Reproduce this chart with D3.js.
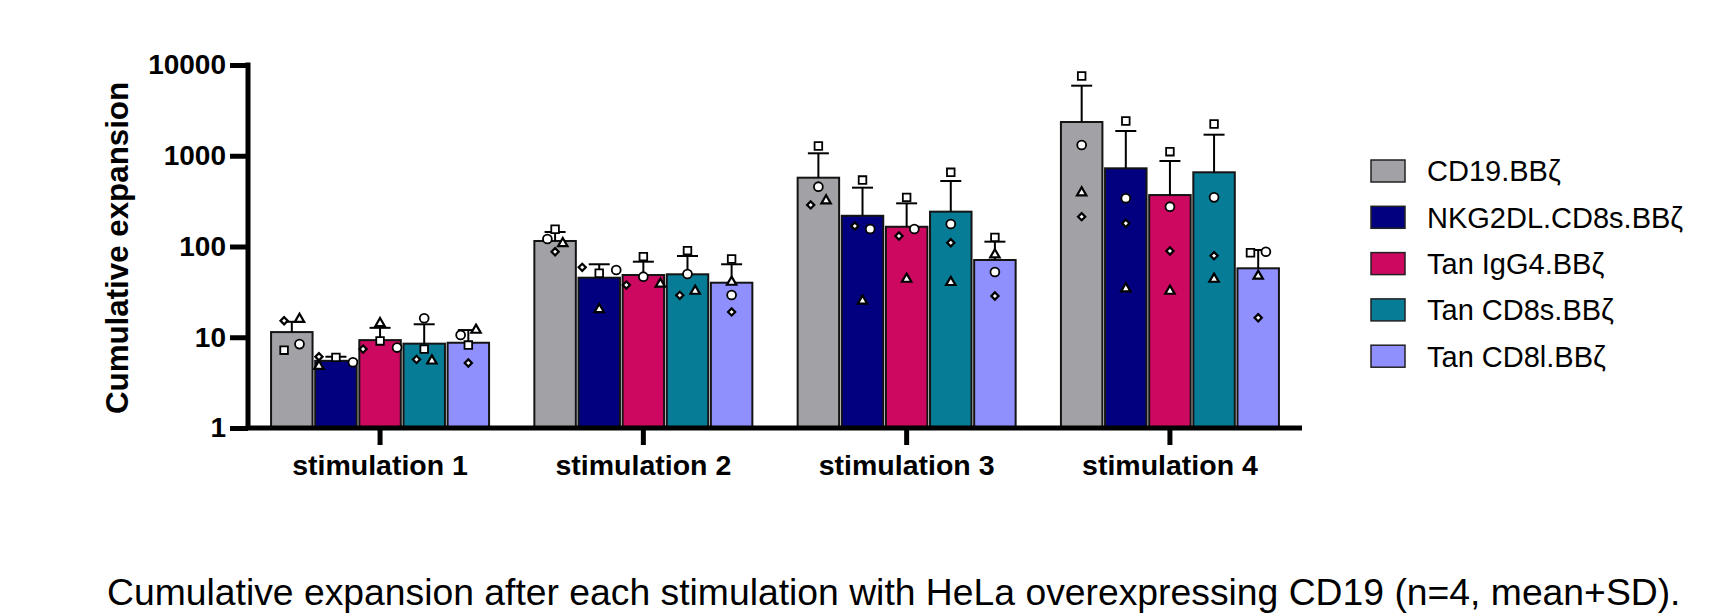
<!DOCTYPE html>
<html>
<head>
<meta charset="utf-8">
<script src="https://cdn.jsdelivr.net/npm/d3@7"></script>
<style>
  html, body { margin: 0; padding: 0; background: #fff; }
  svg { display: block; }
  text { font-family: "Liberation Sans", Arial, Helvetica, sans-serif; fill: #000; }
</style>
</head>
<body>
<svg id="chart" width="1722" height="613"></svg>
<script>
// ---------------- data ----------------
const stimulations = ["stimulation 1", "stimulation 2", "stimulation 3", "stimulation 4"];
const constructs = ["CD19.BBζ", "NKG2DL.CD8s.BBζ", "Tan IgG4.BBζ", "Tan CD8s.BBζ", "Tan CD8l.BBζ"];
const colors = ["#a2a1a6", "#02007e", "#cc0860", "#077c97", "#8f8ffe"];
const yTicks = [1, 10, 100, 1000, 10000];

// mean per stimulation
const meanCD19 = [11.4, 115, 573, 2354];
const meanNKG2DL = [5.5, 45.3, 218, 727];
const meanIgG4 = [9.3, 48.5, 165, 369];
const meanCD8s = [8.5, 49.4, 242, 657];
const meanCD8l = [8.7, 39.9, 71, 57.5];

// SD per stimulation
const sdCD19 = [3.4, 29.5, 491, 3562];
const sdNKG2DL = [0.6, 18.4, 227, 1147];
const sdIgG4 = [3.4, 19.5, 134, 506];
const sdCD8s = [5.4, 29.2, 285, 1049];
const sdCD8l = [3.3, 23.8, 42, 34];

// donors (symbol per donor)
const donors = ["circle", "square", "triangle", "diamond"];
// individual values: one row per stimulation, values in donor order
const ptsCD19 = [[8.4, 7.2, 15.8, 15.2], [121, 155, 108, 87.6], [456, 1281, 320, 287], [1314, 7563, 392, 213]];
const ptsNKG2DL = [[5.3, 6.0, 4.8, 6.1], [55.1, 50.7, 20.3, 59], [156, 540, 25.1, 168], [340, 2414, 34.3, 180]];
const ptsIgG4 = [[7.7, 9.1, 14.2, 7.4], [46.5, 77.2, 38.6, 37.6], [156, 348, 43.8, 130.5], [274.5, 1108, 32.3, 89.2]];
const ptsCD8s = [[16.2, 7.4, 5.5, 5.7], [49.8, 89.9, 32.3, 29], [177, 657, 40.3, 110], [348, 2238, 43.8, 79.2]];
const ptsCD8l = [[10.6, 8.2, 12.0, 5.2], [29.2, 72.8, 40.6, 19], [52.4, 126, 81.2, 28.5], [87.6, 85.4, 47.3, 16.4]];

const yLabel = "Cumulative expansion";
const caption = "Cumulative expansion after each stimulation with HeLa overexpressing CD19 (n=4, mean+SD).";

// ---------------- build ----------------
const means = [meanCD19, meanNKG2DL, meanIgG4, meanCD8s, meanCD8l];
const sds = [sdCD19, sdNKG2DL, sdIgG4, sdCD8s, sdCD8l];
const pts = [ptsCD19, ptsNKG2DL, ptsIgG4, ptsCD8s, ptsCD8l];

const rows = [];
stimulations.forEach((s, si) => {
  constructs.forEach((c, ci) => {
    rows.push({
      stim: s, construct: c, ci,
      mean: means[ci][si], sd: sds[ci][si],
      points: donors.map((d, di) => ({ donor: d, value: pts[ci][si][di] }))
    });
  });
});

const svg = d3.select("#chart");

const y = d3.scaleLog().domain([1, 10000]).range([428, 65]);
const x0 = d3.scaleBand().domain(stimulations).range([250, 1300])
  .paddingInner(0.172).paddingOuter(0.08);
const x1 = d3.scaleBand().domain(constructs).range([0, x0.bandwidth()]).paddingInner(0.06);
const color = d3.scaleOrdinal().domain(constructs).range(colors);

const plot = svg.append("g");

// bars
plot.selectAll("rect.bar").data(rows).join("rect")
  .attr("class", "bar")
  .attr("x", d => x0(d.stim) + x1(d.construct))
  .attr("width", x1.bandwidth())
  .attr("y", d => y(d.mean))
  .attr("height", d => y(1) - y(d.mean))
  .attr("fill", d => color(d.construct))
  .attr("stroke", "#141414")
  .attr("stroke-width", 2);

// error bars (mean + SD)
const capHalf = 10.5;
const eb = plot.selectAll("g.eb").data(rows).join("g").attr("class", "eb")
  .attr("transform", d => `translate(${x0(d.stim) + x1(d.construct) + x1.bandwidth() / 2},0)`);
eb.append("line")
  .attr("x1", 0).attr("x2", 0)
  .attr("y1", d => y(d.mean)).attr("y2", d => y(d.mean + d.sd))
  .attr("stroke", "#000").attr("stroke-width", 2);
eb.append("line")
  .attr("x1", -capHalf).attr("x2", capHalf)
  .attr("y1", d => y(d.mean + d.sd)).attr("y2", d => y(d.mean + d.sd))
  .attr("stroke", "#000").attr("stroke-width", 2);

// scatter spread: cluster points with close pixel positions
const spreadOrder = ["diamond", "square", "circle", "triangle"];
function layoutPoints(d) {
  const p = d.points.map(q => ({ ...q, py: y(q.value), dx: 0 }));
  const sorted = p.slice().sort((a, b) => a.py - b.py);
  const clusters = [];
  sorted.forEach(q => {
    const last = clusters[clusters.length - 1];
    if (last && q.py - last[last.length - 1].py < 8) last.push(q);
    else clusters.push([q]);
  });
  clusters.forEach(cl => {
    cl.sort((a, b) => spreadOrder.indexOf(a.donor) - spreadOrder.indexOf(b.donor));
    let offs;
    if (cl.length === 1) offs = [0];
    else if (cl.length === 2) offs = [-7.7, 7.7];
    else if (cl.length === 3) offs = [-17, 0, 17];
    else offs = [-17, 0, 17, -17];
    cl.forEach((q, i) => q.dx = offs[i]);
  });
  return p;
}

const symbolFor = {
  circle: d3.symbol().type(d3.symbolCircle).size(62)(),
  square: d3.symbol().type(d3.symbolSquare).size(58)(),
  triangle: d3.symbol().type(d3.symbolTriangle).size(38)(),
  diamond: d3.symbol().type(d3.symbolSquare).size(26)()
};

const pg = plot.selectAll("g.pts").data(rows).join("g").attr("class", "pts")
  .attr("transform", d => `translate(${x0(d.stim) + x1(d.construct) + x1.bandwidth() / 2},0)`);
pg.selectAll("path").data(d => layoutPoints(d)).join("path")
  .attr("d", q => symbolFor[q.donor])
  .attr("transform", q => `translate(${q.dx},${q.py})` + (q.donor === "diamond" ? " rotate(45)" : ""))
  .attr("fill", "#fff")
  .attr("stroke", "#000")
  .attr("stroke-width", q => q.donor === "diamond" || q.donor === "triangle" ? 2.2 : 1.8);

// y axis
const yAxis = svg.append("g")
  .attr("transform", "translate(248,0)")
  .call(d3.axisLeft(y).tickValues(yTicks).tickFormat(d3.format("d")).tickSize(18).tickSizeOuter(0).tickPadding(4));
yAxis.select(".domain").attr("stroke", "#000").attr("stroke-width", 5)
  .attr("d", `M0,${y(10000) - 2.5}V${y(1)}`);
yAxis.selectAll(".tick line").attr("stroke", "#000").attr("stroke-width", 5);
yAxis.selectAll(".tick text").attr("font-size", 28).attr("font-weight", "bold")
  .attr("font-family", "Liberation Sans, Arial, sans-serif").attr("fill", "#000");

// x axis
const xAxis = svg.append("g")
  .attr("transform", `translate(0,${y(1)})`)
  .call(d3.axisBottom(x0).tickSize(17).tickSizeOuter(0).tickPadding(10));
xAxis.select(".domain").attr("stroke", "#000").attr("stroke-width", 5)
  .attr("d", "M245.5,0H1302");
xAxis.selectAll(".tick line").attr("stroke", "#000").attr("stroke-width", 5);
xAxis.selectAll(".tick text").attr("font-size", 28.5).attr("font-weight", "bold")
  .attr("font-family", "Liberation Sans, Arial, sans-serif").attr("fill", "#000");

// y label
svg.append("text")
  .attr("transform", "translate(128,248) rotate(-90)")
  .attr("text-anchor", "middle")
  .attr("font-size", 31.3)
  .attr("font-weight", "bold")
  .text(yLabel);

// legend
const legend = svg.append("g").attr("transform", "translate(1371,171)");
const li = legend.selectAll("g").data(constructs).join("g")
  .attr("transform", (d, i) => `translate(0,${i * 46.3})`);
li.append("rect")
  .attr("x", 0).attr("y", -11).attr("width", 34).attr("height", 22)
  .attr("fill", d => color(d)).attr("stroke", "#222").attr("stroke-width", 1.5);
li.append("text")
  .attr("x", 56).attr("y", 0).attr("dy", "0.36em")
  .attr("font-size", 29)
  .text(d => d);

// caption
svg.append("text")
  .attr("x", 107).attr("y", 605)
  .attr("font-size", 37.3)
  .text(caption);
</script>
</body>
</html>
